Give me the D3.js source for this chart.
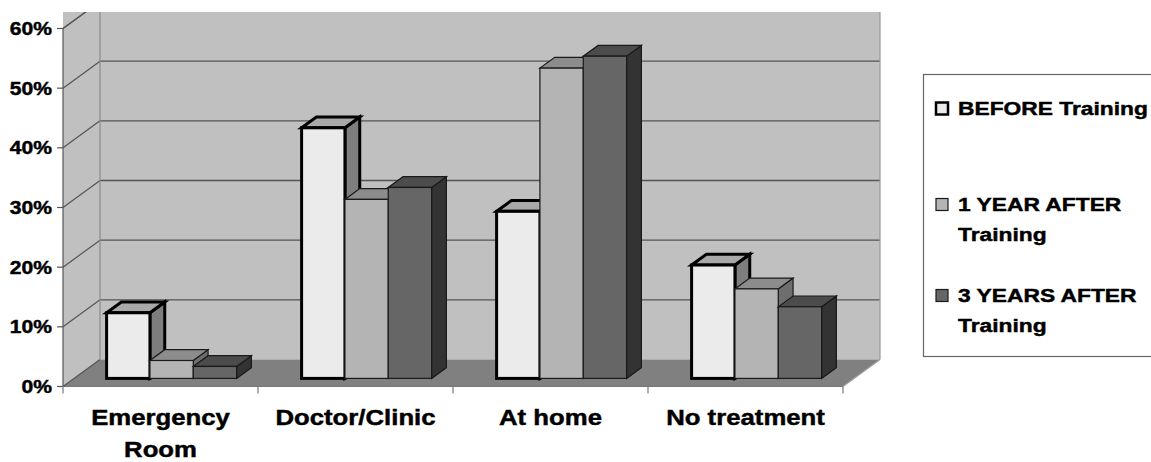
<!DOCTYPE html>
<html>
<head>
<meta charset="utf-8">
<script src="https://cdn.jsdelivr.net/npm/d3@7"></script>
<style>
  html, body { margin: 0; padding: 0; background: #fff; }
  svg { display: block; font-family: "Liberation Sans", Arial, sans-serif; font-weight: bold; }
  text { stroke: #000; stroke-width: 0.45px; }
</style>
</head>
<body>
<svg id="chart" width="1151" height="462"></svg>
<script>
// Where patients sought treatment, before and after training
const categories = ["Emergency Room", "Doctor/Clinic", "At home", "No treatment"];
const categoryLines = [["Emergency", "Room"], ["Doctor/Clinic"], ["At home"], ["No treatment"]];
const seriesNames = ["BEFORE Training", "1 YEAR AFTER Training", "3 YEARS AFTER Training"];
const legendLines = [["BEFORE Training"], ["1 YEAR AFTER", "Training"], ["3 YEARS AFTER", "Training"]];
const beforeValues = [11, 42, 28, 19];
const oneYearValues = [3, 30, 52, 15];
const threeYearValues = [2, 32, 54, 12];
const yTicks = [0, 10, 20, 30, 40, 50, 60];

const seriesValues = [beforeValues, oneYearValues, threeYearValues];

// face colours per series: front, top, side
const faces = [
  { front: "#ebebeb", top: "#a9a9a9", side: "#7e7e7e", stroke: "#000", sw: 3 },
  { front: "#b4b4b4", top: "#8c8c8c", side: "#6e6e6e", stroke: "#1a1a1a", sw: 1.2 },
  { front: "#666666", top: "#4c4c4c", side: "#333333", stroke: "#1a1a1a", sw: 1.2 }
];

const svg = d3.select("#chart");

// oblique projection: floor depth offsets
const DX = 37, DY = 27;
const x0 = 63, x1 = 843, yBase = 386.5, yTop = 28.5;

const x = d3.scaleBand().domain(categories).range([x0, x1]).paddingInner(0).paddingOuter(0);
const xs = d3.scaleBand().domain(seriesNames).range([0, x.bandwidth()]).paddingInner(0).paddingOuter(0.75);
const y = d3.scaleLinear().domain([0, 60]).range([yBase, yTop]);

const sx = 1.17; // horizontal text stretch

// clip top of the chart area
svg.append("defs").append("clipPath").attr("id", "plotClip")
  .append("rect").attr("x", 0).attr("y", 12).attr("width", 1151).attr("height", 450);

const plot = svg.append("g").attr("clip-path", "url(#plotClip)");

const pts = a => a.map(p => p.join(",")).join(" ");

// back wall
plot.append("polygon")
  .attr("points", pts([[x0 + DX, y(0) - DY], [x1 + DX, y(0) - DY], [x1 + DX, y(70) - DY], [x0 + DX, y(70) - DY]]))
  .attr("fill", "#c0c0c0");
// side wall
plot.append("polygon")
  .attr("points", pts([[x0, y(0)], [x0 + DX, y(0) - DY], [x0 + DX, y(70) - DY], [x0, y(70)]]))
  .attr("fill", "#c0c0c0");
// floor
plot.append("polygon")
  .attr("points", pts([[x0, y(0)], [x1, y(0)], [x1 + DX, y(0) - DY], [x0 + DX, y(0) - DY]]))
  .attr("fill", "#808080");

// gridlines on walls
const grid = yTicks.filter(t => t > 0);
plot.selectAll("line.gback").data(grid).join("line")
  .attr("x1", x0 + DX).attr("x2", x1 + DX)
  .attr("y1", d => y(d) - DY).attr("y2", d => y(d) - DY)
  .attr("stroke", "#555").attr("stroke-width", 1.4);
plot.selectAll("line.gside").data(yTicks).join("line")
  .attr("x1", x0).attr("y1", d => y(d))
  .attr("x2", x0 + DX).attr("y2", d => y(d) - DY)
  .attr("stroke", "#555").attr("stroke-width", 1.2);
// top edge of side wall
plot.append("line")
  .attr("x1", x0).attr("y1", y(60)).attr("x2", x0 + DX).attr("y2", y(60) - DY)
  .attr("stroke", "#555").attr("stroke-width", 1.2);

// wall edges
plot.append("line").attr("x1", x0 + DX).attr("x2", x0 + DX)
  .attr("y1", 0).attr("y2", y(0) - DY).attr("stroke", "#8a8a8a").attr("stroke-width", 1.2);
plot.append("line").attr("x1", x1 + DX).attr("x2", x1 + DX)
  .attr("y1", 0).attr("y2", y(0) - DY).attr("stroke", "#9a9a9a").attr("stroke-width", 1.2);
plot.append("line").attr("x1", x1).attr("y1", y(0)).attr("x2", x1 + DX).attr("y2", y(0) - DY)
  .attr("stroke", "#a0a0a0").attr("stroke-width", 1.2);

// axes lines
svg.append("line").attr("x1", x0).attr("x2", x0).attr("y1", y(60)).attr("y2", y(0))
  .attr("stroke", "#555").attr("stroke-width", 1.2);
svg.append("line").attr("x1", x0).attr("x2", x1).attr("y1", y(0)).attr("y2", y(0))
  .attr("stroke", "#777").attr("stroke-width", 1.2);

// y ticks and labels
svg.selectAll("line.yt").data(yTicks).join("line")
  .attr("x1", x0 - 6).attr("x2", x0).attr("y1", d => y(d)).attr("y2", d => y(d))
  .attr("stroke", "#555").attr("stroke-width", 1.2);
svg.selectAll("text.yl").data(yTicks).join("text")
  .attr("transform", d => `translate(52,${y(d) + 6.5}) scale(${sx},1)`)
  .attr("text-anchor", "end").attr("font-size", 18).attr("fill", "#000")
  .text(d => d + "%");

// x ticks
const xTickPos = categories.map(c => x(c)).concat([x1]);
svg.selectAll("line.xt").data(xTickPos).join("line")
  .attr("x1", d => d).attr("x2", d => d).attr("y1", y(0)).attr("y2", y(0) + 7)
  .attr("stroke", "#777").attr("stroke-width", 1.2);

// category labels
categories.forEach((c, i) => {
  const cx = x(c) + x.bandwidth() / 2;
  categoryLines[i].forEach((line, j) => {
    svg.append("text")
      .attr("transform", `translate(${cx},${425 + j * 32}) scale(${sx},1)`)
      .attr("text-anchor", "middle").attr("font-size", 22).attr("fill", "#000")
      .text(line);
  });
});

// bars: placed between 30% and 70% of the floor depth
const f0 = 0.3, f1 = 0.7;
const bdx = (f1 - f0) * DX, bdy = (f1 - f0) * DY;
const offX = f0 * DX, offY = f0 * DY;
const bars = plot.append("g");

categories.forEach((c, ci) => {
  seriesNames.forEach((s, si) => {
    const v = seriesValues[si][ci];
    const st = faces[si];
    const left = x(c) + xs(s) + offX;
    const right = left + xs.bandwidth();
    const bottom = y(0) - offY;
    const top = y(v) - offY;
    const g = bars.append("g")
      .attr("stroke", st.stroke).attr("stroke-width", st.sw).attr("stroke-linejoin", "miter");
    // side face
    g.append("polygon")
      .attr("points", pts([[right, bottom], [right + bdx, bottom - bdy], [right + bdx, top - bdy], [right, top]]))
      .attr("fill", st.side);
    // top face
    g.append("polygon")
      .attr("points", pts([[left, top], [right, top], [right + bdx, top - bdy], [left + bdx, top - bdy]]))
      .attr("fill", st.top);
    // front face
    g.append("rect")
      .attr("x", left).attr("y", top).attr("width", right - left).attr("height", bottom - top)
      .attr("fill", st.front);
  });
});

// legend
const legend = svg.append("g");
legend.append("rect").attr("x", 923.5).attr("y", 74.5).attr("width", 260).attr("height", 282)
  .attr("fill", "#fff").attr("stroke", "#666").attr("stroke-width", 1.2);
const legendY = [115, 211, 302];
seriesNames.forEach((s, i) => {
  const st = faces[i];
  legend.append("rect")
    .attr("x", 936).attr("y", legendY[i] - 12.5).attr("width", 12).attr("height", 12)
    .attr("fill", st.front).attr("stroke", st.stroke).attr("stroke-width", i === 0 ? 2.5 : 1.2);
  legendLines[i].forEach((line, j) => {
    legend.append("text")
      .attr("transform", `translate(958,${legendY[i] + j * 30}) scale(1.2,1)`)
      .attr("font-size", 19).attr("fill", "#000")
      .text(line);
  });
});
</script>
</body>
</html>
